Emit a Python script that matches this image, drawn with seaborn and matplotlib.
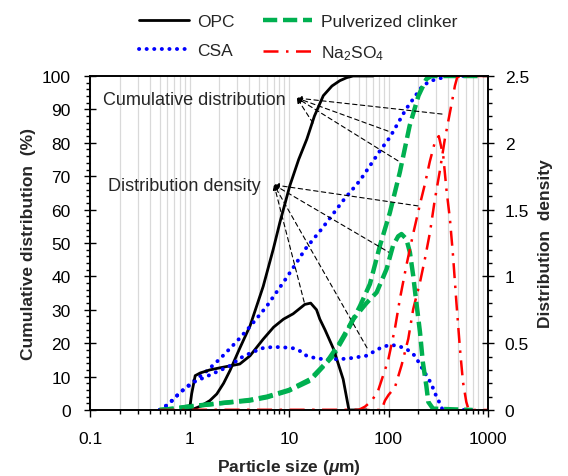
import numpy as np
import matplotlib
matplotlib.use("Agg")
import matplotlib.pyplot as plt
from matplotlib.ticker import FixedLocator, MultipleLocator, LogLocator, NullFormatter
import seaborn as sns

# particle size (um) and values
# cumulative distribution (%) - left axis
opc_cum_size = [1, 1.1, 1.3, 1.6, 1.88, 2.2, 2.55, 3.2, 4.06, 5.5, 6.95, 8.1, 10.2, 12.5, 15.1, 18, 22.1, 27, 32.4, 38, 44, 70]
opc_cum = [0, 0.3, 1.2, 2.8, 4.8, 8, 11.8, 18.5, 25.2, 37, 48.2, 56.2, 67.2, 75, 81.1, 88, 94.1, 97, 98.6, 99.5, 100, 100]

csa_cum_size = [0.5, 0.59, 0.69, 0.8, 0.94, 1.09, 1.43, 2.02, 2.98, 4.06, 5.95, 9.4, 12.9, 14.4, 21.3, 35, 51.6, 65, 82, 103, 150, 220, 270, 400, 700]
csa_cum = [0, 1.4, 3.2, 5.2, 6.9, 8.6, 11.2, 15.3, 20.5, 25, 31, 39.5, 45.7, 48, 54.2, 62.7, 68.7, 73.1, 77.6, 81.6, 90.1, 97.1, 98.6, 100, 100]

clk_cum_size = [0.5, 0.7, 1, 2, 4, 6, 10, 16.3, 27.9, 38, 51.8, 65, 82, 103, 130, 163, 200, 240, 270, 800]
clk_cum = [0, 0.4, 1.1, 2.0, 2.8, 3.8, 5.8, 8.8, 16.3, 23.3, 31.2, 37.7, 49.2, 59, 71.2, 85.1, 94.1, 99.1, 100, 100]

na_cum_size = [0.5, 85, 92, 100, 116, 135, 158, 177, 207, 232, 261, 291, 328, 368, 430, 465, 490, 530, 1000]
na_cum = [0, 0, 2.8, 4.5, 6.8, 13.3, 21.3, 30.2, 38.2, 45.2, 53.2, 62.7, 71.6, 81.1, 91.6, 97.1, 99.6, 100, 100]

# distribution density - right axis
opc_den_size = [1, 1.05, 1.14, 1.28, 1.6, 2.0, 2.55, 3.2, 4.06, 5.5, 7, 8.8, 11, 14.4, 16.5, 18.9, 20.4, 23, 28, 35, 40, 60]
opc_den = [0, 0.12, 0.257, 0.277, 0.3, 0.315, 0.33, 0.344, 0.406, 0.53, 0.62, 0.68, 0.72, 0.79, 0.8, 0.75, 0.68, 0.6, 0.457, 0.23, 0, 0]

csa_den_size = [0.5, 0.59, 0.69, 0.8, 0.94, 1.09, 1.6, 2.55, 3.2, 4.2, 5.5, 7, 8.8, 11, 13, 15, 18, 22, 32, 41, 60, 85, 103, 124, 151, 163, 184, 220, 270, 290, 330, 350, 700]
csa_den = [0, 0.035, 0.08, 0.13, 0.17, 0.207, 0.262, 0.33, 0.387, 0.43, 0.464, 0.472, 0.469, 0.462, 0.44, 0.406, 0.39, 0.38, 0.38, 0.387, 0.406, 0.469, 0.487, 0.481, 0.456, 0.44, 0.406, 0.307, 0.195, 0.132, 0.045, 0, 0]

clk_den_size = [0.5, 0.7, 1, 2, 4, 6, 10, 16.3, 23.8, 32.6, 44.2, 60, 76, 95.6, 111, 125, 135, 151, 164, 177, 190, 207, 221, 240, 251, 280, 700]
clk_den = [0, 0.01, 0.025, 0.05, 0.075, 0.1, 0.15, 0.23, 0.357, 0.507, 0.68, 0.8, 0.88, 1.055, 1.23, 1.3, 1.317, 1.28, 1.18, 1.005, 0.81, 0.584, 0.36, 0.18, 0.06, 0.01, 0]

na_den_size = [0.5, 50, 58, 68, 78.6, 99, 116, 130, 151, 177, 207, 232, 260, 291, 320, 355, 382, 414, 445, 481, 522, 560, 605, 640, 1000]
na_den = [0, 0, 0.025, 0.07, 0.145, 0.37, 0.61, 0.83, 1.08, 1.32, 1.54, 1.69, 1.86, 2.0, 2.05, 1.9, 1.65, 1.43, 1.155, 0.805, 0.46, 0.21, 0.06, 0, 0]

serie_nomi = ["OPC", "CSA", "Pulverized clinker", "Na$_2$SO$_4$"]
x_ticks = [0.1, 1, 10, 100, 1000]
x_tick_labels = ["0.1", "1", "10", "100", "1000"]
y2_ticks = [0, 0.5, 1, 1.5, 2, 2.5]
y2_tick_labels = ["0", "0.5", "1", "1.5", "2", "2.5"]

sns.set_style("ticks")
plt.rcParams["font.family"] = ["Liberation Sans", "DejaVu Sans"]
plt.rcParams["mathtext.fontset"] = "custom"
plt.rcParams["mathtext.rm"] = "Liberation Sans"
plt.rcParams["mathtext.it"] = "Liberation Sans:italic:bold"
plt.rcParams["mathtext.bf"] = "Liberation Sans:bold"

# stili delle serie
stili = {
    "opc": dict(color="black", lw=2.0, linestyle="-"),
    "csa": dict(color="#0000FF", lw=2.8, linestyle=(0, (0.05, 1.9)), dash_capstyle="round"),
    "clk": dict(color="#00B050", lw=3.2, linestyle=(0, (3.2, 1.3))),
    "na": dict(color="#FF0000", lw=1.8, linestyle=(0, (6, 3, 1, 3))),
}

fig = plt.figure(figsize=(5.68, 4.77), dpi=100)
ax = fig.add_axes([0.1585, 0.1384, 0.7007, 0.7002])
ax2 = ax.twinx()

# curve cumulative (asse sinistro)
sns.lineplot(x=opc_cum_size, y=opc_cum, ax=ax, estimator=None, sort=False, **stili["opc"])
sns.lineplot(x=csa_cum_size, y=csa_cum, ax=ax, estimator=None, sort=False, **stili["csa"])
sns.lineplot(x=clk_cum_size, y=clk_cum, ax=ax, estimator=None, sort=False, **stili["clk"])
sns.lineplot(x=na_cum_size, y=na_cum, ax=ax, estimator=None, sort=False, **stili["na"])

# curve di densita (asse destro)
sns.lineplot(x=opc_den_size, y=opc_den, ax=ax2, estimator=None, sort=False, **stili["opc"])
sns.lineplot(x=csa_den_size, y=csa_den, ax=ax2, estimator=None, sort=False, **stili["csa"])
sns.lineplot(x=clk_den_size, y=clk_den, ax=ax2, estimator=None, sort=False, **stili["clk"])
sns.lineplot(x=na_den_size, y=na_den, ax=ax2, estimator=None, sort=False, **stili["na"])

ax.set_xscale("log")
ax.set_xlim(0.1, 1000)
ax.set_ylim(0, 100)
ax2.set_ylim(0, 2.5)

ax.xaxis.set_major_locator(FixedLocator(x_ticks))
ax.set_xticklabels(x_tick_labels)
ax.xaxis.set_minor_locator(LogLocator(base=10, subs=np.arange(2, 10)))
ax.xaxis.set_minor_formatter(NullFormatter())
ax.yaxis.set_major_locator(MultipleLocator(10))
ax.yaxis.set_minor_locator(MultipleLocator(2))
ax2.yaxis.set_major_locator(FixedLocator(y2_ticks))
ax2.set_yticklabels(y2_tick_labels)
ax2.yaxis.set_minor_locator(MultipleLocator(0.1))

ax.grid(True, which="both", axis="x", color="#D9D9D9", lw=0.9)
ax.set_axisbelow(True)

ax.tick_params(axis="x", which="major", direction="out", length=5, width=1, pad=10, labelsize=12.5, colors="black")
ax.tick_params(axis="x", which="minor", direction="out", length=3, width=1, colors="black")
ax.tick_params(axis="y", which="major", direction="inout", length=8, width=1, pad=10, labelsize=12.5, colors="black")
ax.tick_params(axis="y", which="minor", direction="out", length=3, width=1, colors="black")
ax2.tick_params(axis="y", which="major", direction="inout", length=8, width=1, pad=8, labelsize=12.5, colors="black")
ax2.tick_params(axis="y", which="minor", direction="out", length=3, width=1, colors="black")
for a in (ax, ax2):
    for s in a.spines.values():
        s.set_color("black")
        s.set_linewidth(1.2)

ax.set_xlabel(r"Particle size ($\mu$m)", fontsize=12.5, fontweight="bold")
ax.set_ylabel("Cumulative distribution  (%)", fontsize=12.5, fontweight="bold")
ax2.set_ylabel("Distribution  density", fontsize=12.5, fontweight="bold")
ax.xaxis.set_label_coords(0.5, -0.14)
ax.yaxis.set_label_coords(-0.135, 0.5)
ax2.yaxis.set_label_coords(1.125, 0.5)

# annotazioni con frecce tratteggiate
frecce = dict(arrowstyle="-|>", color="black", lw=0.8, linestyle=(0, (4, 3)),
              shrinkA=0, shrinkB=0, mutation_scale=7)
for punto in [(17.4, 85.9), (98.9, 83.5), (124.5, 74.6), (345, 88.6)]:
    ax.annotate("", xy=(12.0, 93.4), xytext=punto, arrowprops=frecce)
for punto in [(14.2, 32.3), (60.8, 18.6), (108, 46.7), (198, 61.1)]:
    ax.annotate("", xy=(7.07, 67.4), xytext=punto, arrowprops=frecce)
ax.text(0.135, 93.1, "Cumulative distribution", va="center", ha="left", fontsize=13)
ax.text(0.152, 67.1, "Distribution density", va="center", ha="left", fontsize=13)

# legenda in alto a due colonne
handles = ax.get_lines()[:4]
fig.legend(handles, serie_nomi, ncol=2, loc="upper center", bbox_to_anchor=(0.525, 0.99),
           frameon=False, fontsize=12.5, handlelength=2.87, handletextpad=0.5,
           columnspacing=1.6, labelspacing=0.8, borderaxespad=0.2)

fig.savefig("out.png", dpi=100)
